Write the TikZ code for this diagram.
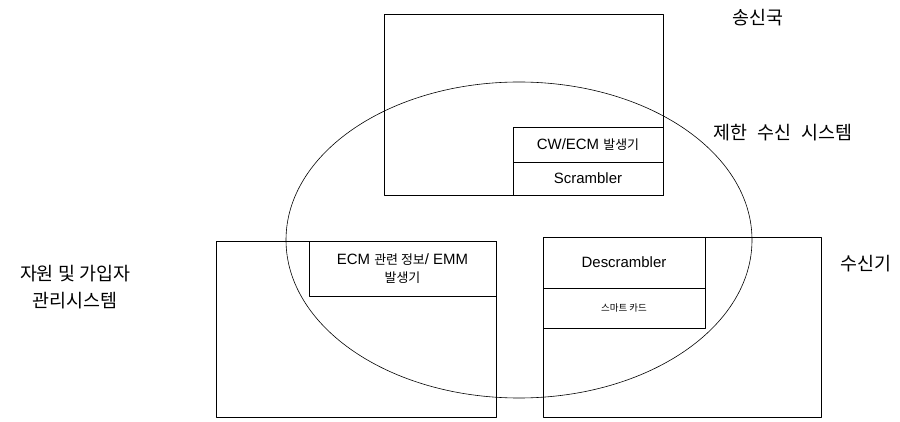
\documentclass[tikz,border=0pt]{standalone}
\usepackage{fontspec}
\setmainfont{Liberation Sans}
\newfontfamily\kor{Noto Sans CJK KR}
\usetikzlibrary{shapes.geometric}
\tikzset{
  sysbox/.style={draw,rectangle,inner sep=0pt,line width=0.6pt},
  cellbox/.style={draw,rectangle,inner sep=0pt,line width=0.6pt,font=\fontsize{15}{18}\selectfont,align=center},
  lbl/.style={draw=none,inner sep=0pt,font=\kor\fontsize{18.5}{27}\selectfont,align=center}
}
\newcommand{\kcell}[1]{{\kor\fontsize{13}{18}\selectfont #1}}
\begin{document}
\begin{tikzpicture}[line join=bevel]
\useasboundingbox (0bp,0bp) rectangle (900bp,422bp);
%%
\node (tx) at (523.5bp,317.5bp) [sysbox,minimum width=279bp,minimum height=181bp] {};
  \node (cwecm) at (588.0bp,277.5bp) [cellbox,minimum width=150bp,minimum height=35bp] {CW/ECM \kcell{발생기}};
  \node (scr) at (588.0bp,243.5bp) [cellbox,minimum width=150bp,minimum height=33bp] {Scrambler};
  \node (sms) at (356.0bp,93.0bp) [sysbox,minimum width=280bp,minimum height=176bp] {};
  \node (emm) at (402.5bp,153.5bp) [cellbox,minimum width=187bp,minimum height=55bp] {ECM \kcell{관련 정보}/ EMM\\\kcell{발생기}};
  \node (rx) at (682.0bp,95.0bp) [sysbox,minimum width=278bp,minimum height=180bp] {};
  \node (descr) at (624.0bp,159.5bp) [cellbox,minimum width=162bp,minimum height=51bp] {Descrambler};
  \node (card) at (624.0bp,114.0bp) [cellbox,minimum width=162bp,minimum height=40bp] {\kor\fontsize{9.5}{12}\selectfont 스마트 카드};
  \node (cas) at (519.0bp,182.0bp) [draw,ellipse,inner sep=0pt,line width=0.6pt,minimum width=466bp,minimum height=316bp] {};
%
  \node (txlbl) at (758.0bp,404.0bp) [lbl] {송신국};
  \node (caslbl) at (783.0bp,289.0bp) [lbl] {제한\hspace{0.55em}수신\hspace{0.55em}시스템};
  \node (rxlbl) at (866.0bp,158.0bp) [lbl] {수신기};
  \node (smslbl) at (75.0bp,134.5bp) [lbl] {자원 및 가입자\\관리시스템};
%
\end{tikzpicture}
\end{document}
